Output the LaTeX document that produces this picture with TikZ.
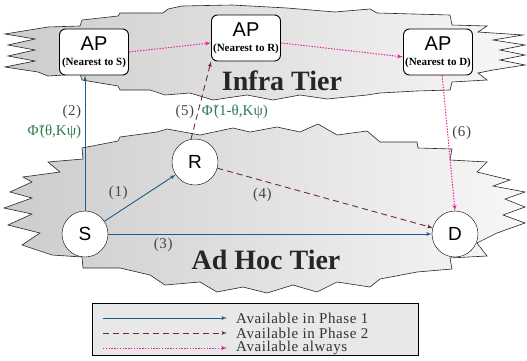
\documentclass[tikz,border=0pt]{standalone}
\usepackage{fontspec}
\setmainfont{Liberation Serif}
\setsansfont{Liberation Sans}
\usetikzlibrary{shapes,arrows}

\definecolor{phaseblue}{HTML}{1A5F8C}
\definecolor{phasered}{HTML}{6E2C2C}
\definecolor{alwayspink}{HTML}{F01C9C}
\definecolor{phigreen}{HTML}{2E7A50}
\definecolor{labelgray}{HTML}{444444}

\newcommand{\apnode}[1]{{\sffamily\fontsize{20}{15}\selectfont AP}\\{\bfseries (Nearest to #1)}}
\newcommand{\phistar}{Φ\kern0.5pt\raisebox{4pt}{\fontsize{10}{10}\selectfont *}\kern-4pt}

\begin{document}
\begin{tikzpicture}[x=1pt, y=1pt, auto, >=latex']
\tikzstyle{tier} = [draw=black!85, line width=0.6pt, left color=black!20, right color=black!3]
\tikzstyle{station} = [draw, circle, fill=white, minimum size=46pt, inner sep=0pt,
    font=\sffamily\fontsize{19}{19}\selectfont]
\tikzstyle{ap} = [draw, rounded corners=6pt, fill=white, line width=0.9pt,
    minimum width=69pt, minimum height=46pt, align=center, inner sep=1pt,
    font=\fontsize{11}{15}\selectfont]
\tikzstyle{phaseone} = [->, phaseblue, line width=0.9pt]
\tikzstyle{phasetwo} = [->, phasered, line width=0.9pt, dash pattern=on 6pt off 4pt]
\tikzstyle{always} = [->, alwayspink, line width=1pt, dash pattern=on 1.4pt off 1.4pt]
\tikzstyle{hop} = [text=labelgray, font=\fontsize{15}{15}\selectfont\addfontfeature{LetterSpace=4}]
\tikzstyle{rate} = [text=phigreen, font=\fontsize{15}{15}\selectfont]
\tikzstyle{tiername} = [text=black!85, font=\bfseries\fontsize{28}{28}\selectfont]
\tikzstyle{keytext} = [anchor=west, inner sep=0pt, text=black!80,
    font=\fontsize{15}{15}\selectfont\addfontfeature{LetterSpace=4}]
    \useasboundingbox (0,0) rectangle (527,360);
    % The two tier clouds, outlines given with y running downwards
    \begin{scope}[shift={(0,360)}, yscale=-1]
    \path [tier] (48,27) -- (80,26) -- (82,20) -- (118,16) -- (120,13) -- (163,13)
        -- (168,9) -- (182,6) -- (232,5) -- (287,8) -- (335,12) -- (370,9) -- (377,13)
        -- (450,15) -- (452,25) -- (487,26) -- (478,32) -- (523,35) -- (493,40)
        -- (525,45) -- (500,50) -- (525,55) -- (500,60) -- (525,65) -- (493,70)
        -- (478,73) -- (487,80) -- (452,82) -- (450,90) -- (417,91) -- (380,93)
        -- (367,95) -- (327,99) -- (300,95) -- (273,100) -- (247,95) -- (213,100)
        -- (190,93) -- (165,95) -- (150,90) -- (120,90) -- (118,86) -- (82,80)
        -- (80,74) -- (48,76) -- (38,72) -- (5,67) -- (35,61) -- (8,56) -- (35,50)
        -- (8,45) -- (35,39) -- (5,34) -- cycle;
    \path [tier] (48,162) -- (83,159) -- (82,148) -- (118,141) -- (120,137)
        -- (157,132) -- (167,129) -- (200,135) -- (233,128) -- (250,132) -- (277,127)
        -- (300,132) -- (318,124) -- (337,135) -- (367,131) -- (380,142) -- (417,142)
        -- (418,148) -- (452,149) -- (450,160) -- (487,162) -- (477,172) -- (510,180)
        -- (493,186) -- (525,192) -- (505,199) -- (525,207) -- (503,215) -- (525,223)
        -- (497,233) -- (477,243) -- (487,256) -- (450,258) -- (452,269) -- (417,272)
        -- (380,279) -- (370,287) -- (337,282) -- (317,292) -- (293,285) -- (267,293)
        -- (243,287) -- (217,292) -- (200,282) -- (165,285) -- (150,275) -- (120,268)
        -- (83,268) -- (82,257) -- (52,255) -- (22,245) -- (40,233) -- (8,225)
        -- (32,214) -- (4,208) -- (32,198) -- (10,192) -- (32,182) -- (23,177)
        -- (60,172) -- cycle;
    \end{scope}
    \node [tiername] (infra) at (282,279) {Infra Tier};
    \node [tiername] (adhoc) at (266,100) {Ad Hoc Tier};

    % Access points and the three ad hoc stations
    \node [ap] (APS) at (94,308) {\apnode{S}};
    \node [ap] (APR) at (246,322) {\apnode{R}};
    \node [ap] (APD) at (438,308) {\apnode{D}};
    \node [station] (S) at (85,126) {S};
    \node [station] (R) at (195,198) {R};
    \node [station, right of=S, node distance=370pt] (D) {D};

    % Links, numbered by hop
    \draw [phaseone] (S) -- node [hop, pos=0.38] {(1)} (R);
    \draw [phaseone] (S.north) -- node [hop, pos=0.73] {(2)}
        node [rate, pos=0.58] {\phistar(θ,Kψ)} (S.north |- APS.south);
    \draw [phaseone] (S) -- node [hop, pos=0.17, swap] {(3)} (D);
    \draw [phasetwo] (R) -- node [hop, pos=0.27, swap] {(4)} (D);
    \draw [phasetwo] (R.100) -- node [hop, pos=0.35, left] {(5)}
        node [rate, pos=0.35, right] {\phistar(1-θ,Kψ)} (APR.south west);
    \draw [always] (APD.-80) -- node [hop, pos=0.5] {(6)} (D.north);
    \draw [always] (APS.east) -- (APR.188);
    \draw [always] (APR.-8) -- (APD.188);

    % Legend
    \node [draw, fill=black!9, line width=0.8pt, minimum width=326pt,
        minimum height=52pt] (legend) at (255,31) {};
    \coordinate (oneA) at (103,42);  \coordinate (oneB) at (227,42);
    \coordinate (twoA) at (103,27);  \coordinate (twoB) at (227,27);
    \coordinate (allA) at (103,12);  \coordinate (allB) at (227,12);
    \draw [phaseone] (oneA) -- (oneB);
    \draw [phasetwo] (twoA) -- (twoB);
    \draw [always] (allA) -- (allB);
    \node [keytext] (oneT) at (236,42) {Available in Phase 1};
    \node [keytext] (twoT) at (236,27) {Available in Phase 2};
    \node [keytext] (allT) at (236,12) {Available always};
\end{tikzpicture}
\end{document}
